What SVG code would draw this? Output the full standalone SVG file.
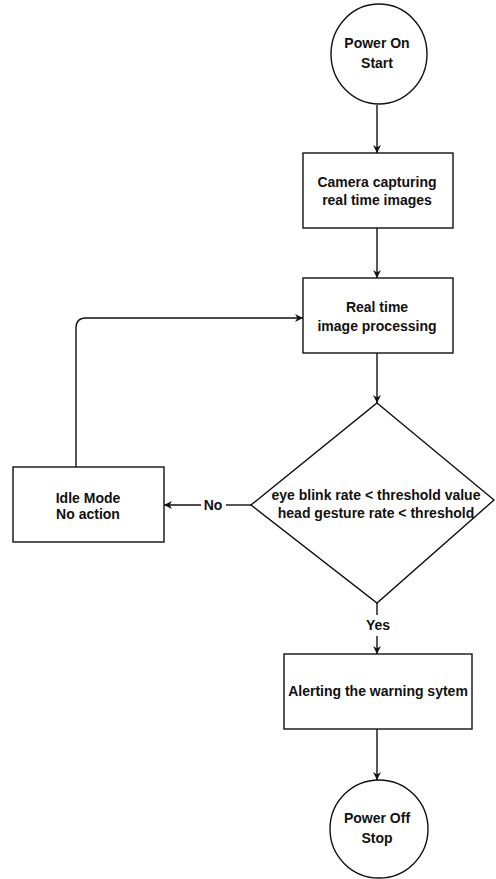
<svg xmlns="http://www.w3.org/2000/svg" width="496" height="879" viewBox="0 0 496 879">
  <defs>
    <marker id="arrow" viewBox="0 0 10 10" refX="10" refY="5" markerWidth="8" markerHeight="8" markerUnits="userSpaceOnUse" orient="auto">
      <path d="M0,0 L10,5 L0,10 L3,5 z" fill="#111"/>
    </marker>
  </defs>
  <style>
    .shape { fill: #fff; stroke: #111; stroke-width: 1.4; }
    .edge { fill: none; stroke: #111; stroke-width: 1.4; }
    .label { font-family: "Liberation Sans", Arial, sans-serif; font-size: 14px; font-weight: bold; fill: #111; text-anchor: middle; }
  </style>
  <rect width="496" height="879" fill="#fff"/>

  <!-- connectors -->
  <g id="connectors">
    <path class="edge" d="M377,105 L377,153" marker-end="url(#arrow)"/>
    <path class="edge" d="M377,228 L377,278" marker-end="url(#arrow)"/>
    <path class="edge" d="M377,353 L377,403" marker-end="url(#arrow)"/>
    <path class="edge" d="M251,505 L226,505"/>
    <path class="edge" d="M201,505 L164,505" marker-end="url(#arrow)"/>
    <text class="label" x="213" y="510">No</text>
    <path class="edge" d="M76,467 L76,328 Q76,318 86,318 L303,318" marker-end="url(#arrow)"/>
    <path class="edge" d="M377,603 L377,615"/>
    <text class="label" x="378" y="630">Yes</text>
    <path class="edge" d="M377,636 L377,654" marker-end="url(#arrow)"/>
    <path class="edge" d="M377,729 L377,780" marker-end="url(#arrow)"/>
  </g>

  <g id="start">
    <ellipse class="shape" cx="379" cy="54" rx="48" ry="50"/>
    <text class="label" x="377" y="48">Power On</text>
    <text class="label" x="377" y="68">Start</text>
  </g>

  <g id="capture">
    <rect class="shape" x="303" y="153" width="150" height="75"/>
    <text class="label" x="377" y="187">Camera capturing</text>
    <text class="label" x="377" y="205">real time images</text>
  </g>

  <g id="processing">
    <rect class="shape" x="303" y="278" width="150" height="75"/>
    <text class="label" x="377" y="312">Real time</text>
    <text class="label" x="377" y="331">image processing</text>
  </g>

  <g id="decision">
    <polygon class="shape" points="377,403 494,500 377,603 251,505"/>
    <text class="label" x="376" y="500">eye blink rate &lt; threshold value</text>
    <text class="label" x="376" y="518">head gesture rate &lt; threshold</text>
  </g>

  <g id="idle">
    <rect class="shape" x="13" y="467" width="151" height="75"/>
    <text class="label" x="88" y="503">Idle Mode</text>
    <text class="label" x="88" y="519">No action</text>
  </g>

  <g id="alert">
    <rect class="shape" x="284" y="654" width="188" height="75"/>
    <text class="label" x="378" y="696">Alerting the warning sytem</text>
  </g>

  <g id="stop">
    <ellipse class="shape" cx="379" cy="829" rx="49" ry="49"/>
    <text class="label" x="377" y="823">Power Off</text>
    <text class="label" x="377" y="843">Stop</text>
  </g>
</svg>
